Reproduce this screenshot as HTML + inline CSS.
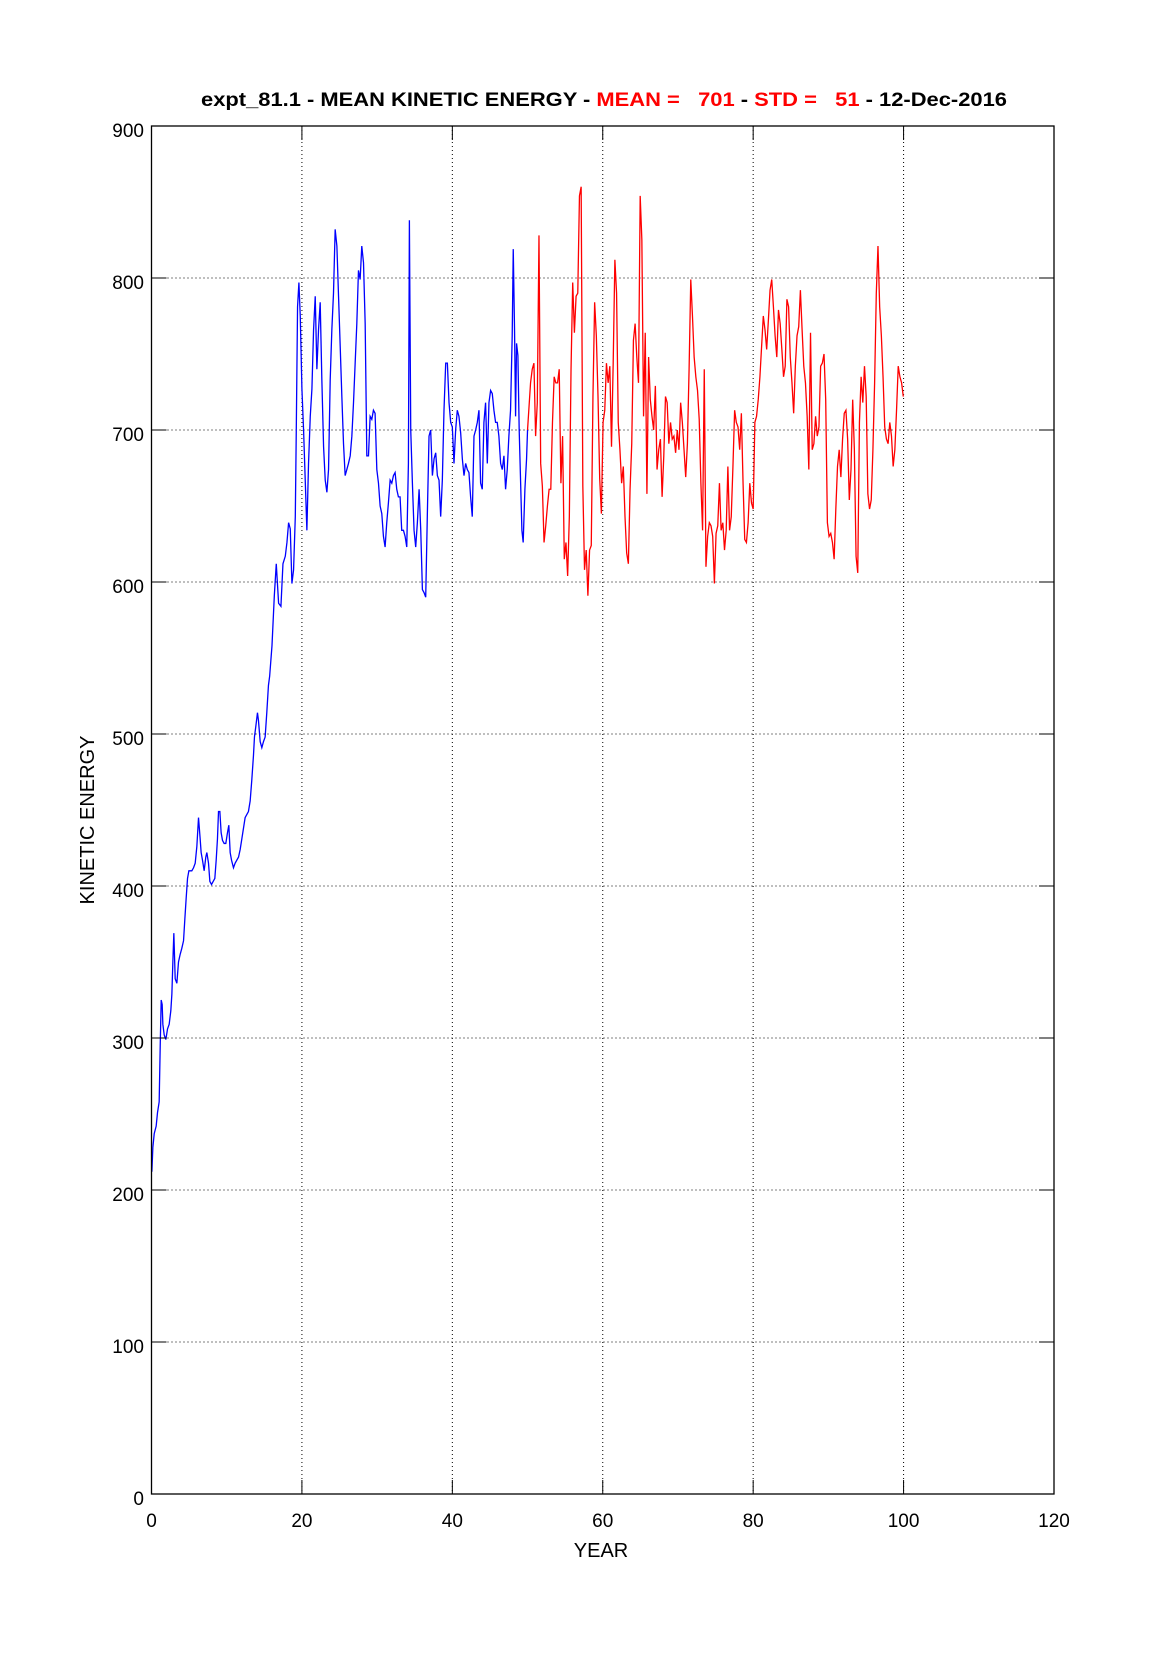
<!DOCTYPE html>
<html><head><meta charset="utf-8"><style>
html,body{margin:0;padding:0;background:#fff;}
svg{display:block;font-family:"Liberation Sans",sans-serif;}
</style></head><body>
<svg id="chart" width="1165" height="1679" viewBox="0 0 1165 1679">
<rect x="0" y="0" width="1165" height="1679" fill="#fff"/>
<text x="604" y="106" text-anchor="middle" font-size="19" font-weight="bold" style="white-space:pre" textLength="806" lengthAdjust="spacingAndGlyphs"><tspan fill="#000">expt_81.1 - MEAN KINETIC ENERGY - </tspan><tspan fill="#ff0000">MEAN =   701</tspan><tspan fill="#000"> - </tspan><tspan fill="#ff0000">STD =   51</tspan><tspan fill="#000"> - 12-Dec-2016</tspan></text>
<g id="grid"></g>
<g id="series"></g>
<g id="axes"></g>
<text x="601" y="1557" text-anchor="middle" font-size="20">YEAR</text>
<text x="0" y="0" transform="translate(94,820) rotate(-90)" text-anchor="middle" font-size="20">KINETIC ENERGY</text>
</svg>
<script>
const xTicks = [0,20,40,60,80,100,120];
const yTicks = [0,100,200,300,400,500,600,700,800,900];
const blueYears = [0.05,0.18,0.36,0.62,0.80,1.02,1.16,1.29,1.42,1.51,1.69,1.91,2.13,2.35,2.57,2.71,2.84,2.97,3.15,3.37,3.59,3.81,4.03,4.26,4.43,4.61,4.79,4.97,5.14,5.36,5.59,5.81,6.03,6.25,6.47,6.60,6.78,7.00,7.22,7.36,7.58,7.76,7.98,8.20,8.42,8.60,8.77,8.91,9.09,9.26,9.44,9.66,9.88,10.10,10.28,10.46,10.64,10.90,11.12,11.34,11.57,11.79,12.01,12.23,12.45,12.67,12.89,13.12,13.34,13.56,13.69,13.87,14.09,14.22,14.45,14.67,14.89,15.11,15.33,15.55,
15.71,16.02,16.33,16.59,16.90,17.21,17.48,17.79,18.01,18.23,18.45,18.67,18.89,19.12,19.25,19.42,19.60,19.78,20.00,
20.22,20.44,20.66,20.88,21.11,21.33,21.55,21.77,21.99,22.21,22.43,22.65,22.88,23.10,23.32,23.54,23.76,23.98,24.20,24.42,24.65,24.87,25.09,25.31,25.53,25.75,25.97,26.19,26.42,26.64,26.86,27.08,27.30,27.52,27.74,27.96,28.19,28.41,28.63,28.85,29.07,29.29,29.51,29.73,29.96,30.18,30.40,30.62,30.84,31.06,31.28,31.50,31.73,31.95,32.17,32.39,32.61,32.83,33.05,33.27,33.50,33.72,33.94,34.16,34.29,34.47,34.69,34.91,35.13,35.35,35.58,35.80,36.02,36.24,36.46,36.68,36.90,37.12,37.35,37.57,37.79,38.01,38.23,38.45,38.67,38.89,39.12,39.34,39.56,39.78,40.00,40.22,40.44,40.66,40.88,41.11,41.33,41.55,41.77,41.99,42.21,42.43,42.65,42.88,43.10,43.32,43.54,43.76,43.98,44.20,44.42,44.65,44.87,45.09,45.31,45.53,45.75,45.97,46.19,46.42,46.64,46.86,47.08,47.30,47.52,47.74,47.96,48.10,48.27,48.41,48.54,48.72,48.89,49.07,49.25,49.42,49.65,49.87,50.00];
const blueValues = [212,228,237,242,251,258,295,325,322,309,302,299,306,309,318,329,350,369,339,336,350,355,359,364,378,392,405,410,410,410,412,415,426,445,431,422,417,410,419,422,415,403,401,403,405,417,431,449,449,435,430,428,428,435,440,422,417,412,415,417,419,424,431,438,445,447,449,456,470,486,498,505,514,509,495,491,495,498,514,532,
538,558,591,612,586,584,612,617,626,639,635,599,608,643,700,781,797,775,727,
700,667,634,678,709,727,766,788,740,766,784,733,689,667,659,674,733,766,790,832,821,788,755,722,691,670,674,678,683,696,718,744,770,805,799,821,810,770,683,683,709,707,713,711,674,665,650,645,630,623,639,652,667,665,670,672,661,656,656,634,634,630,623,678,838,700,665,634,623,639,661,634,595,593,590,645,696,700,670,681,685,670,667,643,667,713,744,744,718,705,702,678,700,713,709,698,681,670,678,674,672,656,643,696,700,705,713,665,661,705,718,678,718,726,724,713,705,705,696,678,674,683,661,674,696,713,762,819,766,709,757,749,700,667,634,626,661,681,700];
const redStartYear = 50.4;
const redEndYear = 99.96;
const redValues = [731,740,744,696,718,828,678,663,626,637,650,661,661,705,735,731,731,740,665,696,615,626,604,643,740,797,764,788,790,854,860,663,608,621,591,621,624,722,784,762,722,668,645,705,713,744,731,742,689,744,812,790,705,687,665,676,643,619,612,661,691,759,770,748,731,854,825,709,764,658,748,720,709,700,729,674,687,694,656,683,722,718,691,705,694,696,685,700,687,718,705,687,669,691,740,799,775,748,735,726,707,665,634,740,610,630,639,637,630,599,632,637,665,634,639,621,634,676,634,643,676,713,705,702,687,711,665,628,626,639,665,652,648,705,709,720,735,755,775,766,753,772,792,799,781,762,748,779,770,753,735,742,786,781,748,731,711,742,762,768,792,766,742,731,709,674,764,687,691,709,696,702,742,744,750,720,639,630,632,626,615,648,676,687,669,694,711,713,694,654,674,720,687,617,606,705,735,718,742,722,658,648,654,687,731,790,821,781,762,735,702,694,691,705,696,676,687,713,742,735,731,722];

const NS = 'http://www.w3.org/2000/svg';
const L = 151.5, R = 1054, T = 126, B = 1494;
const xMin = 0, xMax = 120, yMin = 0, yMax = 900;
function xs(v){ return L + (v - xMin) / (xMax - xMin) * (R - L); }
function ys(v){ return B - (v - yMin) / (yMax - yMin) * (B - T); }
function mk(tag, attrs, parent){ const e = document.createElementNS(NS, tag); for (const k in attrs) e.setAttribute(k, attrs[k]); parent.appendChild(e); return e; }

const grid = document.getElementById('grid');
const axes = document.getElementById('axes');
const series = document.getElementById('series');

xTicks.forEach(t => {
  const x = xs(t);
  if (t > xMin && t < xMax) {
    const g = mk('line', {x1:x, x2:x, y1:T, y2:B, stroke:'#000', 'stroke-width':1, 'stroke-dasharray':'1,3'}, grid);
    
    
    const tk1 = mk('line', {x1:x, x2:x, y1:B, y2:B-14, stroke:'#000', 'stroke-width':1}, axes);
    
    
    const tk2 = mk('line', {x1:x, x2:x, y1:T, y2:T+14, stroke:'#000', 'stroke-width':1}, axes);
    
    
  }
  const lb = mk('text', {x:x, y:1527, 'text-anchor':'middle', 'font-size':19}, axes);
  lb.textContent = t;
  
  
});
yTicks.forEach(t => {
  const y = ys(t);
  if (t > yMin && t < yMax) {
    const g = mk('line', {x1:L, x2:R, y1:y, y2:y, stroke:'#000', 'stroke-width':1, 'stroke-dasharray':'1,3'}, grid);
    
    
    const tk1 = mk('line', {x1:L, x2:L+15, y1:y, y2:y, stroke:'#000', 'stroke-width':1}, axes);
    
    
    const tk2 = mk('line', {x1:R, x2:R-15, y1:y, y2:y, stroke:'#000', 'stroke-width':1}, axes);
    
    
  }
  const lb = mk('text', {x:144, y:y+11, 'text-anchor':'end', 'font-size':19}, axes);
  lb.textContent = t;
  
  
});
const frame = mk('rect', {x:L, y:T, width:R-L, height:B-T, fill:'none', stroke:'#000', 'stroke-width':1.3}, axes);



let d = '';
blueYears.forEach((yr, i) => { d += (i ? 'L' : 'M') + xs(yr).toFixed(2) + ' ' + ys(blueValues[i]).toFixed(2); });
const blue = mk('path', {d:d, fill:'none', stroke:'#0000ff', 'stroke-width':1.3, 'stroke-linejoin':'miter'}, series);



const lastBlue = blueValues[blueValues.length - 1];
let d2 = 'M' + xs(blueYears[blueYears.length - 1]).toFixed(2) + ' ' + ys(lastBlue).toFixed(2);
const n = redValues.length;
redValues.forEach((v, i) => {
  const yr = redStartYear + (redEndYear - redStartYear) * i / (n - 1);
  d2 += 'L' + xs(yr).toFixed(2) + ' ' + ys(v).toFixed(2);
});
const red = mk('path', {d:d2, fill:'none', stroke:'#ff0000', 'stroke-width':1.3}, series);


</script>
</body></html>
